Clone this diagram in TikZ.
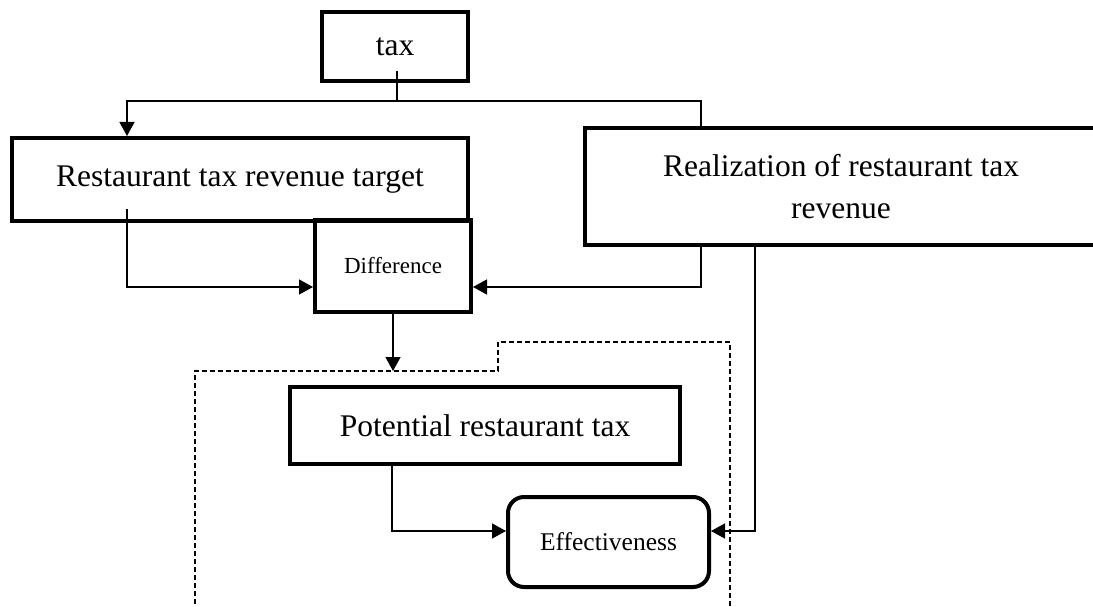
\documentclass[tikz,border=0pt]{standalone}
\usepackage{fontspec}
\setmainfont{Liberation Serif}
\usepackage{tikz}
\usetikzlibrary{calc}
\usetikzlibrary{arrows.meta}
\newcommand{\bigtext}{\fontsize{31.5}{42}\selectfont}
\newcommand{\smalltext}{\fontsize{23}{28}\selectfont}
\newcommand{\midtext}{\fontsize{25.5}{30}\selectfont}
\tikzset{
    common/.style={draw, rectangle, line width=4pt, inner sep=0pt, align=center},
    block/.style={common, font=\bigtext},
    smallblock/.style={common, font=\smalltext},
    roundblock/.style={common, font=\midtext, rounded corners=16pt},
    conn/.style={line width=1.4pt, >={Triangle[length=14pt, width=15pt]}},
    region/.style={line width=1.5pt, dash pattern=on 5pt off 3pt}
}

\begin{document}
\begin{tikzpicture}[x=1pt, y=-1pt]
              \useasboundingbox (0,0) rectangle (1093,607);

              \draw[region] (195,612) -- (195,371) -- (498,371) -- (498,342) -- (730,342) -- (730,612);

              \node[block, minimum width=146, minimum height=69] (tax) at (395,46.5) {tax};
              \node[block, minimum width=456, minimum height=83] (target) at (240,179.5) {Restaurant tax revenue target};
              \node[block, minimum width=512, minimum height=117] (realization) at (841,186.5) {Realization of restaurant tax\\revenue};
              \node[smallblock, minimum width=156, minimum height=92] (difference) at (393,266) {Difference};
              \node[block, minimum width=390, minimum height=77] (potential) at (485,425.5) {Potential restaurant tax};
              \node[roundblock, minimum width=201, minimum height=90] (effectiveness) at (608.5,542) {Effectiveness};

              \coordinate (taxout) at ($(tax.south)+(2,-12)$);
              \coordinate (split) at ($(tax.south)+(2,18)$);
              \coordinate (regiontop) at (394,371);

              \draw[conn]
                (taxout) -- (split)
                (split) -| ($(realization.north west)+(118,0)$);

              \draw[conn, ->] (split) -| ($(target.north west)+(117,0)$);
              \draw[conn, ->] ($(target.south west)+(117,-14)$) |- ($(difference.west)+(0,21)$);
              \draw[conn, ->] ($(realization.south west)+(118,0)$) |- ($(difference.east)+(0,21)$);
              \draw[conn, ->] (difference.south) -- (difference.south |- regiontop);
              \draw[conn, ->] ($(potential.south west)+(104,0)$) |- ($(effectiveness.west)+(0,-11)$);
              \draw[conn, ->] ($(realization.south west)+(172,0)$) |- ($(effectiveness.east)+(0,-11)$);
            \end{tikzpicture}
\end{document}
